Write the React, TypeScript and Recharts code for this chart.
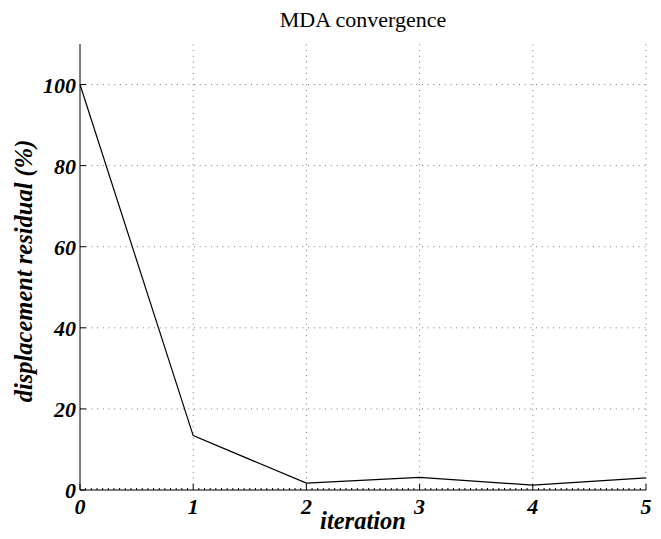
import React from 'react';
import { LineChart, Line, XAxis, YAxis, ReferenceLine, Label } from 'recharts';

// MDA convergence history
const iterations = [0, 1, 2, 3, 4, 5];
const residualPercent = [100, 13.4, 1.7, 3.1, 1.2, 3.0];

const xMajorTicks = [0, 1, 2, 3, 4, 5];
const yMajorTicks = [0, 20, 40, 60, 80, 100];
const xGridLines = [1, 2, 3, 4, 5];
const yGridLines = [20, 40, 60, 80, 100];

const data = iterations.map((it, i) => ({ iteration: it, residual: residualPercent[i] }));

// minor tick positions along the iteration axis (20 per unit)
const xMinorTicks: number[] = [];
for (let k = 0; k <= 100; k++) xMinorTicks.push(k / 20);

const isMajorX = (v: number) => xMajorTicks.some((m) => Math.abs(m - v) < 1e-6);

const FONT = 'Liberation Serif';
const labelStyle = { fontFamily: FONT, fontSize: 24.5, fontWeight: 'bold', fontStyle: 'italic' } as const;
const tickStyle = { fontFamily: FONT, fontSize: 22, fontWeight: 'bold', fontStyle: 'italic' } as const;

const XTick = (props: any) => {
  const { x, y, payload } = props;
  const v = payload.value;
  if (!isMajorX(v)) {
    return <line x1={x} x2={x} y1={y} y2={y - 2} stroke="#000" strokeWidth={1} />;
  }
  return (
    <g>
      <line x1={x} x2={x} y1={y} y2={y - 6} stroke="#000" strokeWidth={1} />
      <text x={x} y={y + 24} textAnchor="middle" style={tickStyle} fill="#000">
        {Math.round(v)}
      </text>
    </g>
  );
};

const YTick = (props: any) => {
  const { x, y, payload } = props;
  return (
    <g>
      <line x1={x} x2={x + 6} y1={y} y2={y} stroke="#000" strokeWidth={1} />
      <text x={x - 4} y={y + 8} textAnchor="end" style={tickStyle} fill="#000">
        {payload.value}
      </text>
    </g>
  );
};

const YTitle = (props: any) => {
  const vb = props.viewBox;
  const cx = 23;
  const cy = vb.y + vb.height / 2 + 4;
  return (
    <text x={cx} y={cy} transform={`rotate(-90 ${cx} ${cy})`} textAnchor="middle" dominantBaseline="central"
      style={labelStyle} fill="#000">
      displacement residual (%)
    </text>
  );
};

const XTitle = (props: any) => {
  const vb = props.viewBox;
  return (
    <text x={vb.x + vb.width / 2} y={529} textAnchor="middle" style={labelStyle} fill="#000">
      iteration
    </text>
  );
};

export default function App() {
  return (
    <div style={{ position: 'absolute', left: 0, top: 0, width: 661, height: 539, background: '#fff' }}>
      <div style={{ position: 'absolute', left: 80, width: 566, top: 9, textAlign: 'center', fontFamily: FONT, fontSize: 22, color: '#000', lineHeight: '22px' }}>
        MDA convergence
      </div>
      <LineChart width={661} height={539} data={data} margin={{ top: 44, right: 15, bottom: 19, left: 20 }}>
        <XAxis
          dataKey="iteration"
          type="number"
          domain={[0, 5]}
          ticks={xMinorTicks}
          interval={0}
          tickLine={false}
          tickSize={0}
          tickMargin={0}
          height={30}
          axisLine={{ stroke: '#000', strokeWidth: 1 }}
          tick={<XTick />}
        >
          <Label content={<XTitle />} />
        </XAxis>
        <YAxis
          type="number"
          domain={[0, 110]}
          ticks={yMajorTicks}
          interval={0}
          tickLine={false}
          tickSize={0}
          tickMargin={0}
          width={60}
          axisLine={{ stroke: '#000', strokeWidth: 1 }}
          tick={<YTick />}
        >
          <Label content={<YTitle />} />
        </YAxis>
        {xGridLines.map((v) => (
          <ReferenceLine key={`gx${v}`} x={v} stroke="#777" strokeDasharray="1 4.7" strokeWidth={1} />
        ))}
        {yGridLines.map((v) => (
          <ReferenceLine key={`gy${v}`} y={v} stroke="#777" strokeDasharray="1 4.7" strokeWidth={1} />
        ))}
        <Line
          type="linear"
          dataKey="residual"
          stroke="#000"
          strokeWidth={1.2}
          dot={false}
          isAnimationActive={false}
        />
      </LineChart>
    </div>
  );
}
